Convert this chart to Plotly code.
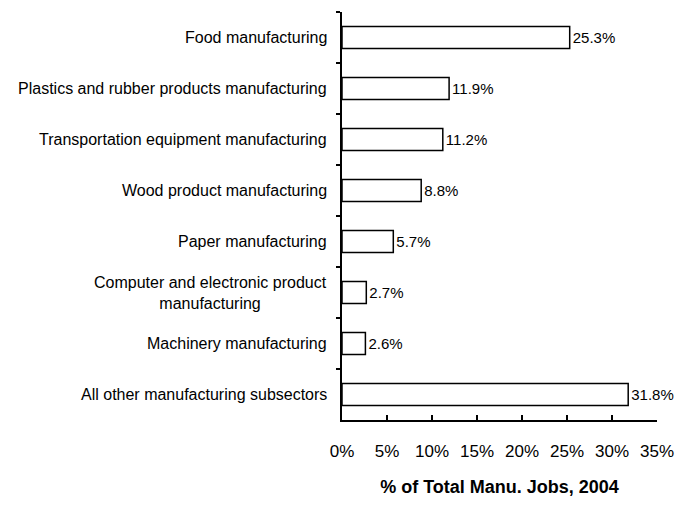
import plotly.graph_objects as go

# Share of total manufacturing jobs by subsector, 2004
categories = [
    "Food manufacturing",
    "Plastics and rubber products manufacturing",
    "Transportation equipment manufacturing",
    "Wood product manufacturing",
    "Paper manufacturing",
    "Computer and electronic product<br>manufacturing",
    "Machinery manufacturing",
    "All other manufacturing subsectors",
]
shares = [25.3, 11.9, 11.2, 8.8, 5.7, 2.7, 2.6, 31.8]
x_ticks = [0, 5, 10, 15, 20, 25, 30, 35]
x_tick_labels = [f"{t}%" for t in x_ticks]

FONT = "Arial, Liberation Sans, sans-serif"

fig = go.Figure(
    go.Bar(
        x=shares,
        y=categories,
        orientation="h",
        marker=dict(color="white", line=dict(color="black", width=1.5)),
        text=[f"{v}%" for v in shares],
        textposition="outside",
        textfont=dict(family=FONT, size=15, color="black"),
        cliponaxis=False,
        constraintext="none",
    )
)

# Category names as centered, right-anchored labels beside the axis
for cat in categories:
    fig.add_annotation(
        x=0, xref="paper", y=cat, yref="y",
        text=cat, showarrow=False,
        xanchor="right", xshift=-13, align="center",
        font=dict(family=FONT, size=16, color="black"),
    )

fig.update_layout(
    width=686, height=506,
    margin=dict(l=342, r=29, t=12, b=83),
    paper_bgcolor="white", plot_bgcolor="white",
    bargap=0.57,
    showlegend=False,
    font=dict(family=FONT, color="black"),
)

fig.update_xaxes(
    range=[0, 35],
    tickvals=x_ticks, ticktext=x_tick_labels,
    showgrid=False, zeroline=False,
    showline=True, linecolor="black", linewidth=1.5,
    ticks="inside", ticklen=5, tickcolor="black", tickwidth=1.5,
    ticklabelstandoff=15,
    tickfont=dict(family=FONT, size=17, color="black"),
    title=dict(text="<b>% of Total Manu. Jobs, 2004</b>",
               font=dict(family=FONT, size=18, color="black"), standoff=20),
)

fig.update_yaxes(
    autorange="reversed",
    showgrid=False, zeroline=False,
    showline=True, linecolor="black", linewidth=1.5,
    ticks="outside", ticklen=4, tickcolor="black", tickwidth=1.5,
    tickson="boundaries",
    showticklabels=False,
)

fig.write_html("out.html")
